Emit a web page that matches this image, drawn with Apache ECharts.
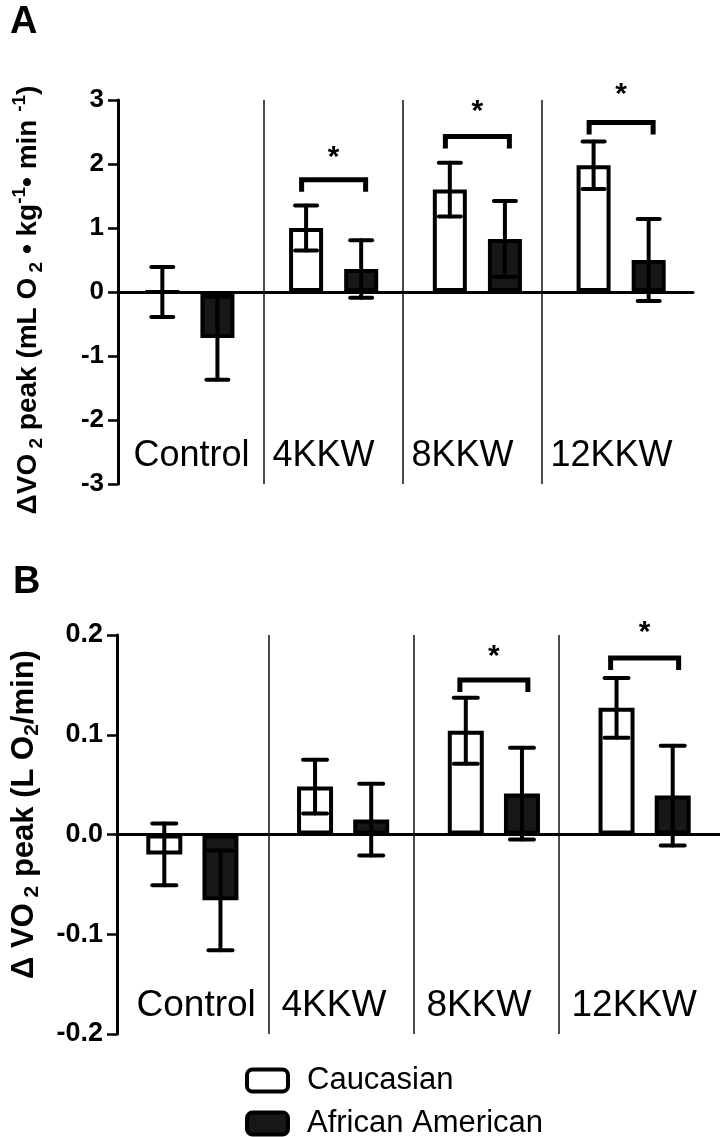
<!DOCTYPE html>
<html><head><meta charset="utf-8">
<script src="https://cdn.jsdelivr.net/npm/echarts@6/dist/echarts.min.js"></script>
<style>html,body{margin:0;padding:0;background:#fff}#c{width:720px;height:1137px}</style>
</head><body><div id="c"></div>
<script>
// ---------- data ----------
const categories = ['Control', '4KKW', '8KKW', '12KKW'];
const seriesNames = ['Caucasian', 'African American'];
// Panel A: ΔVO2 peak (mL O2 · kg-1 · min-1)
const cauMeanA = [0.0, 1.0, 1.6, 1.98];
const cauErrA  = [0.39, 0.35, 0.42, 0.37];
const afrMeanA = [-0.72, 0.36, 0.83, 0.5];
const afrErrA  = [0.65, 0.45, 0.59, 0.64];
const sigGroupsA = ['4KKW', '8KKW', '12KKW'];
const bracketA   = [1.755, 2.43, 2.65];
const starA      = [2.10, 2.82, 3.08];
const yTicksA = [-3, -2, -1, 0, 1, 2, 3];
// Panel B: ΔVO2 peak (L O2/min)
const cauMeanB = [-0.02, 0.048, 0.104, 0.127];
const cauErrB  = [0.031, 0.027, 0.033, 0.03];
const afrMeanB = [-0.066, 0.015, 0.041, 0.039];
const afrErrB  = [0.05, 0.036, 0.046, 0.05];
const sigGroupsB = ['8KKW', '12KKW'];
const bracketB   = [0.155, 0.177];
const starB      = [0.178, 0.202];
const yTicksB = [-0.2, -0.1, 0.0, 0.1, 0.2];

// ---------- styles ----------
const FONT = "'Liberation Sans', Arial, sans-serif";
const BLACK = '#000';
const DARK = '#171717';

function errSeries(name, xi, yi, means, errs, side, barW, gap, capHalf) {
  return {
    type: 'custom', name: name + ' err', xAxisIndex: xi, yAxisIndex: yi, z: 6, silent: true,
    data: means.map((m, i) => [i, m, errs[i]]),
    renderItem: function (params, api) {
      const i = api.value(0), m = api.value(1), e = api.value(2);
      const off = side * barW * (1 + gap) / 2;
      const c = api.coord([i, m]);
      const hi = api.coord([i, m + e]);
      const lo = api.coord([i, m - e]);
      const x = c[0] + off;
      const st = { stroke: BLACK, lineWidth: 4, lineCap: 'round' };
      return {
        type: 'group', children: [
          { type: 'line', shape: { x1: x, y1: hi[1], x2: x, y2: lo[1] }, style: st },
          { type: 'line', shape: { x1: x - capHalf, y1: hi[1], x2: x + capHalf, y2: hi[1] }, style: st },
          { type: 'line', shape: { x1: x - capHalf, y1: lo[1], x2: x + capHalf, y2: lo[1] }, style: st }
        ]
      };
    }
  };
}

function sigSeries(xi, yi, groups, levels, stars, halfW, leg) {
  return {
    type: 'custom', xAxisIndex: xi, yAxisIndex: yi, z: 7, silent: true, clip: false,
    data: groups.map((g, i) => [categories.indexOf(g), levels[i], stars[i]]),
    renderItem: function (params, api) {
      const i = api.value(0);
      const p = api.coord([i, api.value(1)]);
      const s = api.coord([i, api.value(2)]);
      return {
        type: 'group', children: [
          { type: 'polyline', shape: { points: [[p[0] - halfW, p[1] + leg], [p[0] - halfW, p[1]], [p[0] + halfW, p[1]], [p[0] + halfW, p[1] + leg]] },
            style: { stroke: BLACK, lineWidth: 5, fill: null, lineJoin: 'miter' } },
          { type: 'text', x: s[0], y: s[1], style: { text: '*', fontSize: 30, fontWeight: 'bold', fontFamily: FONT, fill: BLACK, align: 'center', verticalAlign: 'middle' } }
        ]
      };
    }
  };
}

function barSeries(name, xi, yi, values, color, barW, gap, withZero) {
  const s = {
    type: 'bar', name: name, xAxisIndex: xi, yAxisIndex: yi, data: values,
    barWidth: barW, barGap: (gap * 100) + '%', z: 3,
    itemStyle: { color: color, borderColor: BLACK, borderWidth: 4 }
  };
  if (withZero) {
    s.markLine = { silent: true, symbol: ['none', 'none'], label: { show: false }, z: 4,
      lineStyle: { color: BLACK, width: 3, type: 'solid' }, data: [{ yAxis: 0 }] };
  }
  return s;
}

function labelAxis(gi, fs, boxW) {
  return {
    type: 'category', gridIndex: gi, data: categories,
    axisLine: { show: false }, axisTick: { show: false },
    splitLine: { show: true, showMinLine: false, showMaxLine: false, lineStyle: { color: '#111', width: 1.5 } },
    axisLabel: { inside: true, interval: 0, margin: 10, color: BLACK, align: 'center',
      formatter: v => '{c|' + v + '}',
      rich: { c: { width: boxW, align: 'left', fontSize: fs, fontFamily: FONT, color: BLACK } } }
  };
}
function mainX(gi) {
  return { type: 'category', gridIndex: gi, data: categories,
    axisLine: { show: true, lineStyle: { color: BLACK, width: 3 } },
    axisTick: { show: false }, axisLabel: { show: false }, splitLine: { show: false } };
}
function mainY(gi, ticks, fs, fmt, name, rich, gap, pad) {
  return { type: 'value', gridIndex: gi, min: ticks[0], max: ticks[ticks.length - 1],
    interval: +(ticks[1] - ticks[0]).toFixed(3),
    axisLine: { show: true, lineStyle: { color: BLACK, width: 3 } },
    axisTick: { show: true, length: 10, lineStyle: { color: BLACK, width: 2.5 } },
    axisLabel: { color: BLACK, fontSize: fs, fontWeight: 'bold', fontFamily: FONT, margin: 14, formatter: fmt },
    splitLine: { show: false },
    name: name, nameLocation: 'middle', nameRotate: 90, nameGap: gap,
    nameTextStyle: { color: BLACK, rich: rich, padding: pad }
  };
}
function makeRich(fs, sfs, lh) {
  return {
    n: { fontSize: fs, fontWeight: 'bold', fontFamily: FONT, color: BLACK, lineHeight: lh },
    s: { fontSize: sfs, fontWeight: 'bold', fontFamily: FONT, color: BLACK, lineHeight: lh, verticalAlign: 'bottom' },
    p: { fontSize: sfs, fontWeight: 'bold', fontFamily: FONT, color: BLACK, lineHeight: lh, verticalAlign: 'top' }
  };
}
function legendFor(nm, top) {
  return {
    orient: 'vertical', left: 245, top: top, padding: 0, itemWidth: 41, itemHeight: 22,
    icon: 'roundRect', itemStyle: { borderColor: BLACK, borderWidth: 4 },
    textStyle: { fontSize: 31, lineHeight: 30, fontFamily: FONT, color: BLACK, padding: [0, 0, 0, 14] },
    data: [nm]
  };
}
const nameA = '{n|ΔVO}{s| 2}{n| peak (mL O}{s| 2}{n| • kg}{p|-1}{n|• min }{p|-1}{n|)}';
const nameB = '{n|Δ VO}{s| 2}{n| peak (L O}{s|2}{n|/min)}';

const WA = 34, GA = 0.62, WB = 36, GB = 0.56;

const option = {
  animation: false,
  backgroundColor: '#fff',
  title: [
    { text: 'A', left: 5, top: -1, textStyle: { fontSize: 38, fontWeight: 'bold', fontFamily: FONT, color: BLACK } },
    { text: 'B', left: 8, top: 559, textStyle: { fontSize: 38, fontWeight: 'bold', fontFamily: FONT, color: BLACK } }
  ],
  legend: [legendFor(seriesNames[0], 1065), legendFor(seriesNames[1], 1108)],
  grid: [
    { left: 118, top: 100, width: 575, height: 384 },
    { left: 125, top: 100, width: 556, height: 384 },
    { left: 117, top: 635, width: 603, height: 399 },
    { left: 124, top: 635, width: 580, height: 399 }
  ],
  xAxis: [mainX(0), labelAxis(1, 36, 122), mainX(2), labelAxis(3, 37, 120)],
  yAxis: [
    mainY(0, yTicksA, 26, v => String(v), nameA, makeRich(28, 19, 36), 72, [0, 16, 0, 0]),
    { type: 'value', gridIndex: 1, show: false, min: 0, max: 1 },
    mainY(2, yTicksB, 27, v => v.toFixed(1), nameB, makeRich(31, 21, 38), 74, [0, 0, 0, 40]),
    { type: 'value', gridIndex: 3, show: false, min: 0, max: 1 }
  ],
  series: [
    barSeries(seriesNames[0], 0, 0, cauMeanA, '#fff', WA, GA, false),
    barSeries(seriesNames[1], 0, 0, afrMeanA, DARK, WA, GA, true),
    errSeries(seriesNames[0], 0, 0, cauMeanA, cauErrA, -1, WA, GA, 11),
    errSeries(seriesNames[1], 0, 0, afrMeanA, afrErrA, 1, WA, GA, 11),
    sigSeries(0, 0, sigGroupsA, bracketA, starA, 32, 12),
    barSeries(seriesNames[0], 2, 2, cauMeanB, '#fff', WB, GB, false),
    barSeries(seriesNames[1], 2, 2, afrMeanB, DARK, WB, GB, true),
    errSeries(seriesNames[0], 2, 2, cauMeanB, cauErrB, -1, WB, GB, 12),
    errSeries(seriesNames[1], 2, 2, afrMeanB, afrErrB, 1, WB, GB, 12),
    sigSeries(2, 2, sigGroupsB, bracketB, starB, 34, 12)
  ]
};
echarts.init(document.getElementById('c')).setOption(option);
</script></body></html>
